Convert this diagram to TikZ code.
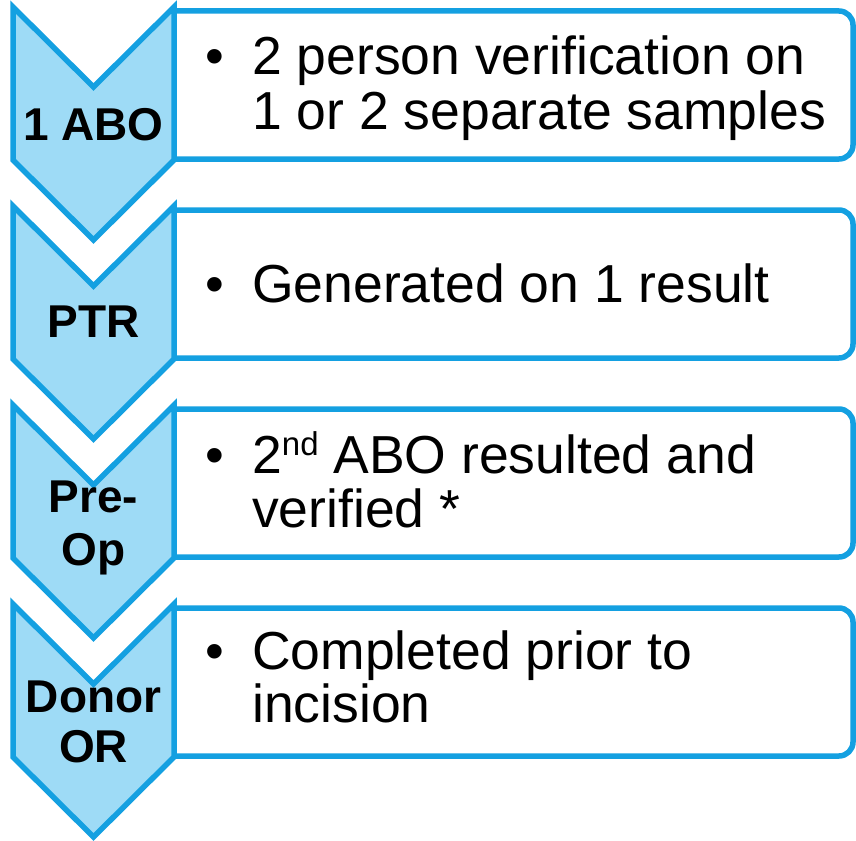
\documentclass[tikz,border=0pt]{standalone}
\usepackage{fontspec}
\setmainfont{Liberation Sans}
\definecolor{stepline}{RGB}{20,160,225}
\definecolor{stepfill}{RGB}{158,219,246}
\tikzset{
  chevronshape/.style={draw=stepline, fill=stepfill, line width=5.5pt, line join=miter},
  infobox/.style={draw=stepline, fill=white, line width=5.5pt},
  steplabel/.style={anchor=base, inner sep=0pt, font=\fontsize{46}{50}\selectfont\bfseries},
  bodytext/.style={anchor=base west, inner sep=0pt, font=\fontsize{53.5}{60}\selectfont},
  bulletmark/.style={anchor=base, inner sep=0pt, font=\fontsize{53.5}{60}\selectfont}
}
\begin{document}
\begin{tikzpicture}[x=1pt,y=1pt]
\useasboundingbox (0,0) rectangle (856,-840);

% chevrons (top edge T) and the boxes beside them
\foreach \T in {7,206,405,604}{
  \draw[infobox] (174,-\T-4) -- (839,-\T-4)
        arc[start angle=90, end angle=0, radius=14]
        -- (853,-\T-138)
        arc[start angle=0, end angle=-90, radius=14]
        -- (174,-\T-152) -- cycle;
  \draw[chevronshape] (13,-\T) -- (93.5,-\T-80) -- (174,-\T)
        -- (174,-\T-153) -- (93.5,-\T-233) -- (13,-\T-153) -- cycle;
}

% step labels
\node[steplabel] (abo) at (93.5,-140) {1 ABO};
\node[steplabel] (ptr) at (93.5,-337) {PTR};
\node[steplabel] (preop1) at (93.5,-512) {Pre-};
\node[steplabel] (preop2) at (93.5,-565) {Op};
\node[steplabel] (donor1) at (93.5,-712) {Donor};
\node[steplabel] (donor2) at (93.5,-762) {OR};

% box texts
\node[bulletmark] (b1) at (215,-75) {•};
\node[bodytext] (t1a) at (252,-75) {2 person verification on};
\node[bodytext] (t1b) at (252,-130) {1 or 2 separate samples};

\node[bulletmark] (b2) at (215,-302) {•};
\node[bodytext] (t2a) at (252,-302) {Generated on 1 result};

\node[bulletmark] (b3) at (215,-473) {•};
\node[bodytext] (t3a) at (252,-473) {2\raisebox{18pt}{\fontsize{33}{33}\selectfont nd} ABO resulted and};
\node[bodytext] (t3b) at (252,-527) {verified *};

\node[bulletmark] (b4) at (215,-669) {•};
\node[bodytext] (t4a) at (252,-669) {Completed prior to};
\node[bodytext] (t4b) at (252,-722) {incision};
\end{tikzpicture}
\end{document}
